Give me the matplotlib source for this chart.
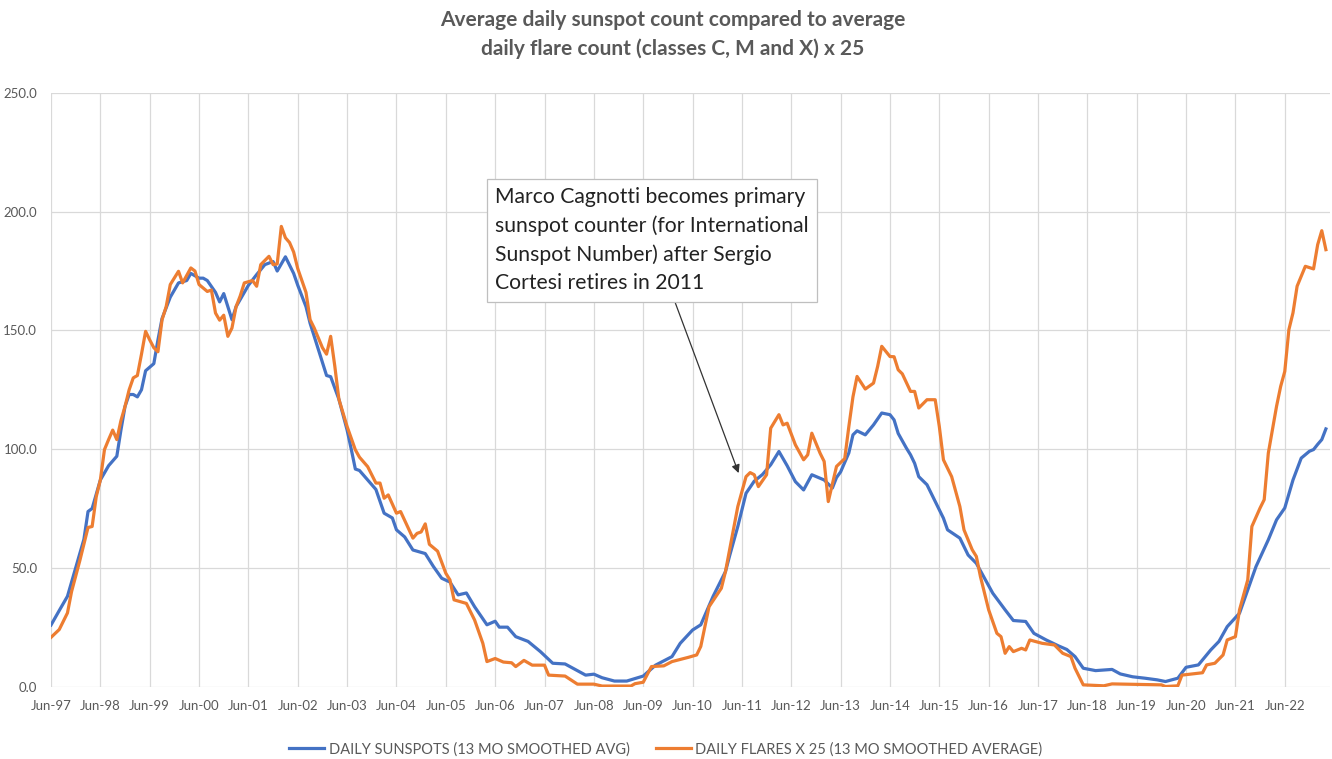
import matplotlib.pyplot as plt

# month offsets from Jun-1997 and values
sun_months = [0, 2, 4, 6, 8, 9, 10, 12, 14, 16, 17, 18, 19, 20, 21, 22, 23, 25, 26, 27,
              29, 31, 33, 34, 36, 37, 38, 40, 41, 42, 44, 45, 46, 48, 50, 52, 54, 55, 57, 59,
              60, 62, 63, 65, 67, 68, 70, 72, 73, 74, 75, 77, 79, 81, 83, 84, 86, 88, 89, 91,
              93, 95, 97, 99, 101, 103, 106, 108, 109, 111, 113, 116, 119, 122, 125, 130, 132, 134, 137, 140,
              144, 147, 151, 153, 156, 158, 161, 164, 165, 167, 169, 171, 173, 175, 177, 179, 181, 183, 185, 188,
              190, 191, 192, 194, 195, 196, 198, 200, 202, 204, 205, 206, 208, 209, 210, 211, 213, 215, 217, 218,
              221, 223, 225, 227, 229, 232, 234, 237, 239, 242, 245, 247, 249, 251, 254, 258, 260, 263, 266, 269,
              271, 274, 276, 279, 282, 284, 286, 289, 291, 293, 296, 298, 300, 302, 304, 306, 307, 308, 309, 310]
sun_vals = [25.9, 32, 38, 50, 62, 73.7, 75, 87, 93, 97, 108, 118, 123, 123, 122, 125, 133, 136, 146, 155,
            164, 170, 171, 174, 172, 172, 171, 166, 162, 165.5, 154.5, 160, 163, 169, 173.5, 177.7, 179, 175, 181, 174,
            169, 160, 153, 142, 131, 130.5, 121, 108, 100, 91.6, 91, 87, 83, 73, 71, 66, 63, 57.5, 57, 56,
            50.5, 45.6, 44, 38.6, 39.4, 33.6, 26, 27.5, 25, 25, 21, 19, 14.7, 9.8, 9.5, 4.8, 5.2, 3.7, 2.3, 2.3,
            4.4, 9, 12.6, 18.2, 23.8, 26, 38, 48.4, 55, 67.4, 81.4, 86.5, 89.3, 93.4, 99, 93, 86.3, 82.8, 89.2, 87,
            83.6, 88, 90.4, 98.4, 106, 107.7, 106, 110.2, 115.2, 114.5, 112.3, 106.6, 100.4, 97.6, 94, 88.4, 85, 77.9, 70.9, 66,
            62.5, 55.4, 51.9, 45.6, 39.3, 32.3, 27.8, 27.4, 22.4, 19.6, 17.1, 15.6, 12.6, 7.7, 6.7, 7.2, 5.3, 4.1, 3.5, 2.8,
            2.1, 3.5, 8.1, 9.1, 15.4, 19, 25.2, 30.9, 40.7, 50.5, 61.8, 70.2, 75.2, 87, 96.2, 99.1, 99.8, 102, 104, 108.5]

flare_months = [0, 2, 4, 5, 7, 8, 9, 10, 11, 12, 13, 14, 15, 16, 17, 18, 19, 20, 21, 22,
                23, 24, 25, 26, 27, 28, 29, 31, 32, 34, 35, 36, 38, 39, 40, 41, 42, 43, 44, 45,
                46, 47, 49, 50, 51, 53, 54, 55, 56, 57, 58, 59, 60, 62, 63, 64, 66, 67, 68, 69,
                70, 72, 74, 75, 77, 79, 80, 81, 82, 84, 85, 88, 89, 90, 91, 92, 94, 96, 97, 98,
                101, 103, 105, 106, 108, 110, 112, 113, 115, 117, 120, 121, 125, 128, 132, 134, 141, 142, 144, 146,
                149, 151, 155, 157, 158, 160, 163, 164, 167, 169, 170, 171, 172, 174, 175, 177, 178, 179, 181, 183,
                184, 185, 187, 188, 189, 191, 193, 194, 195, 196, 198, 200, 201, 202, 204, 205, 206, 207, 209, 210,
                211, 213, 215, 216, 217, 219, 221, 222, 224, 225, 226, 228, 230, 231, 232, 233, 234, 236, 237, 238,
                241, 244, 246, 248, 249, 251, 256, 258, 270, 271, 274, 275, 280, 281, 283, 285, 286, 288, 289, 291,
                292, 294, 295, 296, 298, 299, 300, 301, 302, 303, 305, 307, 308, 309, 310]
flare_vals = [20.7, 24, 31, 40, 53, 60, 67, 67.4, 80, 87, 99.8, 104, 108, 104, 112, 118, 125, 130, 131, 140,
              149.6, 146, 142.7, 141, 154.5, 160, 169.3, 174.9, 170, 176.3, 175, 169.3, 166.4, 167, 157.3, 154.3, 156.4, 147.5, 151, 160,
              164.5, 170, 171, 168.6, 177.7, 181.2, 177.7, 178, 193.8, 189, 187, 183, 176, 166, 154.5, 151, 142.7, 140, 147.5, 135,
              121, 109.5, 99.7, 96.6, 92.6, 85.7, 85.7, 79.3, 80.7, 73, 73.7, 62.5, 64.5, 65.1, 68.5, 59.9, 57, 47.7, 44.9, 36.5,
              35, 28, 18.2, 10.5, 11.8, 10.3, 10, 8.4, 11, 9, 9, 4.8, 4.4, 1, 1, 0.2, 0.2, 1.2, 1.8, 8.4,
              8.7, 10.5, 12.3, 13.3, 16.9, 33.6, 41.4, 48.4, 75.8, 88.4, 90.1, 89.2, 84.2, 89.2, 108.8, 114.5, 110.2, 110.9, 101.8, 95.5,
              97.6, 106.7, 98.3, 94.8, 77.9, 92.7, 96, 109.5, 122, 130.6, 125.3, 127.8, 134.8, 143.3, 139, 138.9, 133.4, 131.7, 124.3, 124.3,
              117.3, 120.8, 120.8, 109.5, 95.5, 88.4, 75.8, 66, 57.6, 54.8, 46.3, 32.3, 22.4, 21, 14, 16.8, 14.7, 16.1, 15.4, 19.6,
              18.2, 17.5, 14, 12.6, 7.7, 0.7, 0.3, 1.1, 0.7, 0, 0.3, 4.8, 5.8, 9.1, 9.8, 13.3, 19.6, 21, 32.3, 44.9,
              67.4, 75.2, 78.7, 98.3, 118, 126.4, 132.7, 150.3, 157.4, 168.6, 177, 175.9, 186.1, 192, 184]

tick_labels = ['Jun-97', 'Jun-98', 'Jun-99', 'Jun-00', 'Jun-01', 'Jun-02', 'Jun-03', 'Jun-04', 'Jun-05',
               'Jun-06', 'Jun-07', 'Jun-08', 'Jun-09', 'Jun-10', 'Jun-11', 'Jun-12', 'Jun-13', 'Jun-14',
               'Jun-15', 'Jun-16', 'Jun-17', 'Jun-18', 'Jun-19', 'Jun-20', 'Jun-21', 'Jun-22']

note = ('Marco Cagnotti becomes primary\nsunspot counter (for International\n'
        'Sunspot Number) after Sergio\nCortesi retires in 2011')

plt.rcParams['font.family'] = ['Lato', 'DejaVu Sans']
grey = '#595959'

fig, ax = plt.subplots(figsize=(13.32, 7.59), dpi=100)
fig.subplots_adjust(left=0.0383, right=0.9985, top=0.8775, bottom=0.0955)

ax.plot(sun_months, sun_vals, color='#4472C4', lw=2.3,
        label='DAILY SUNSPOTS (13 MO SMOOTHED AVG)')
ax.plot(flare_months, flare_vals, color='#ED7D31', lw=2.3,
        label='DAILY FLARES X 25 (13 MO SMOOTHED AVERAGE)')

ax.set_xlim(0, 311)
ax.set_ylim(0, 250)
ax.set_xticks(range(0, 301, 12))
ax.set_xticklabels(tick_labels)
ax.set_yticks(range(0, 251, 50))
ax.set_yticklabels(['%.1f' % v for v in range(0, 251, 50)])
ax.tick_params(length=0, colors=grey, labelsize=9.5)
ax.tick_params(axis='x', pad=10)
ax.tick_params(axis='y', pad=10)
ax.grid(True, color='#d9d9d9', lw=0.9)
ax.set_axisbelow(True)
for s in ax.spines.values():
    s.set_visible(False)

fig.text(0.505, 0.955, 'Average daily sunspot count compared to average\ndaily flare count (classes C, M and X) x 25',
         ha='center', va='center', fontsize=15, fontweight='bold', color=grey, linespacing=1.5)

ax.annotate(note, xy=(167.2, 89.9), xytext=(108, 188),
            fontsize=15.2, color='#222222', ha='left', va='center', linespacing=1.5,
            bbox=dict(boxstyle='square,pad=0.4', fc='white', ec='#bfbfbf', lw=0.9),
            arrowprops=dict(arrowstyle='-|>', color='#333333', lw=0.9,
                            mutation_scale=12, shrinkA=0, shrinkB=0))

fig.legend(loc='center', bbox_to_anchor=(0.5, 0.013), ncol=2, frameon=False,
           fontsize=10.5, handlelength=2.4, columnspacing=1.8, labelcolor=grey,
           handletextpad=0.3)

fig.savefig('out.png', dpi=100)
